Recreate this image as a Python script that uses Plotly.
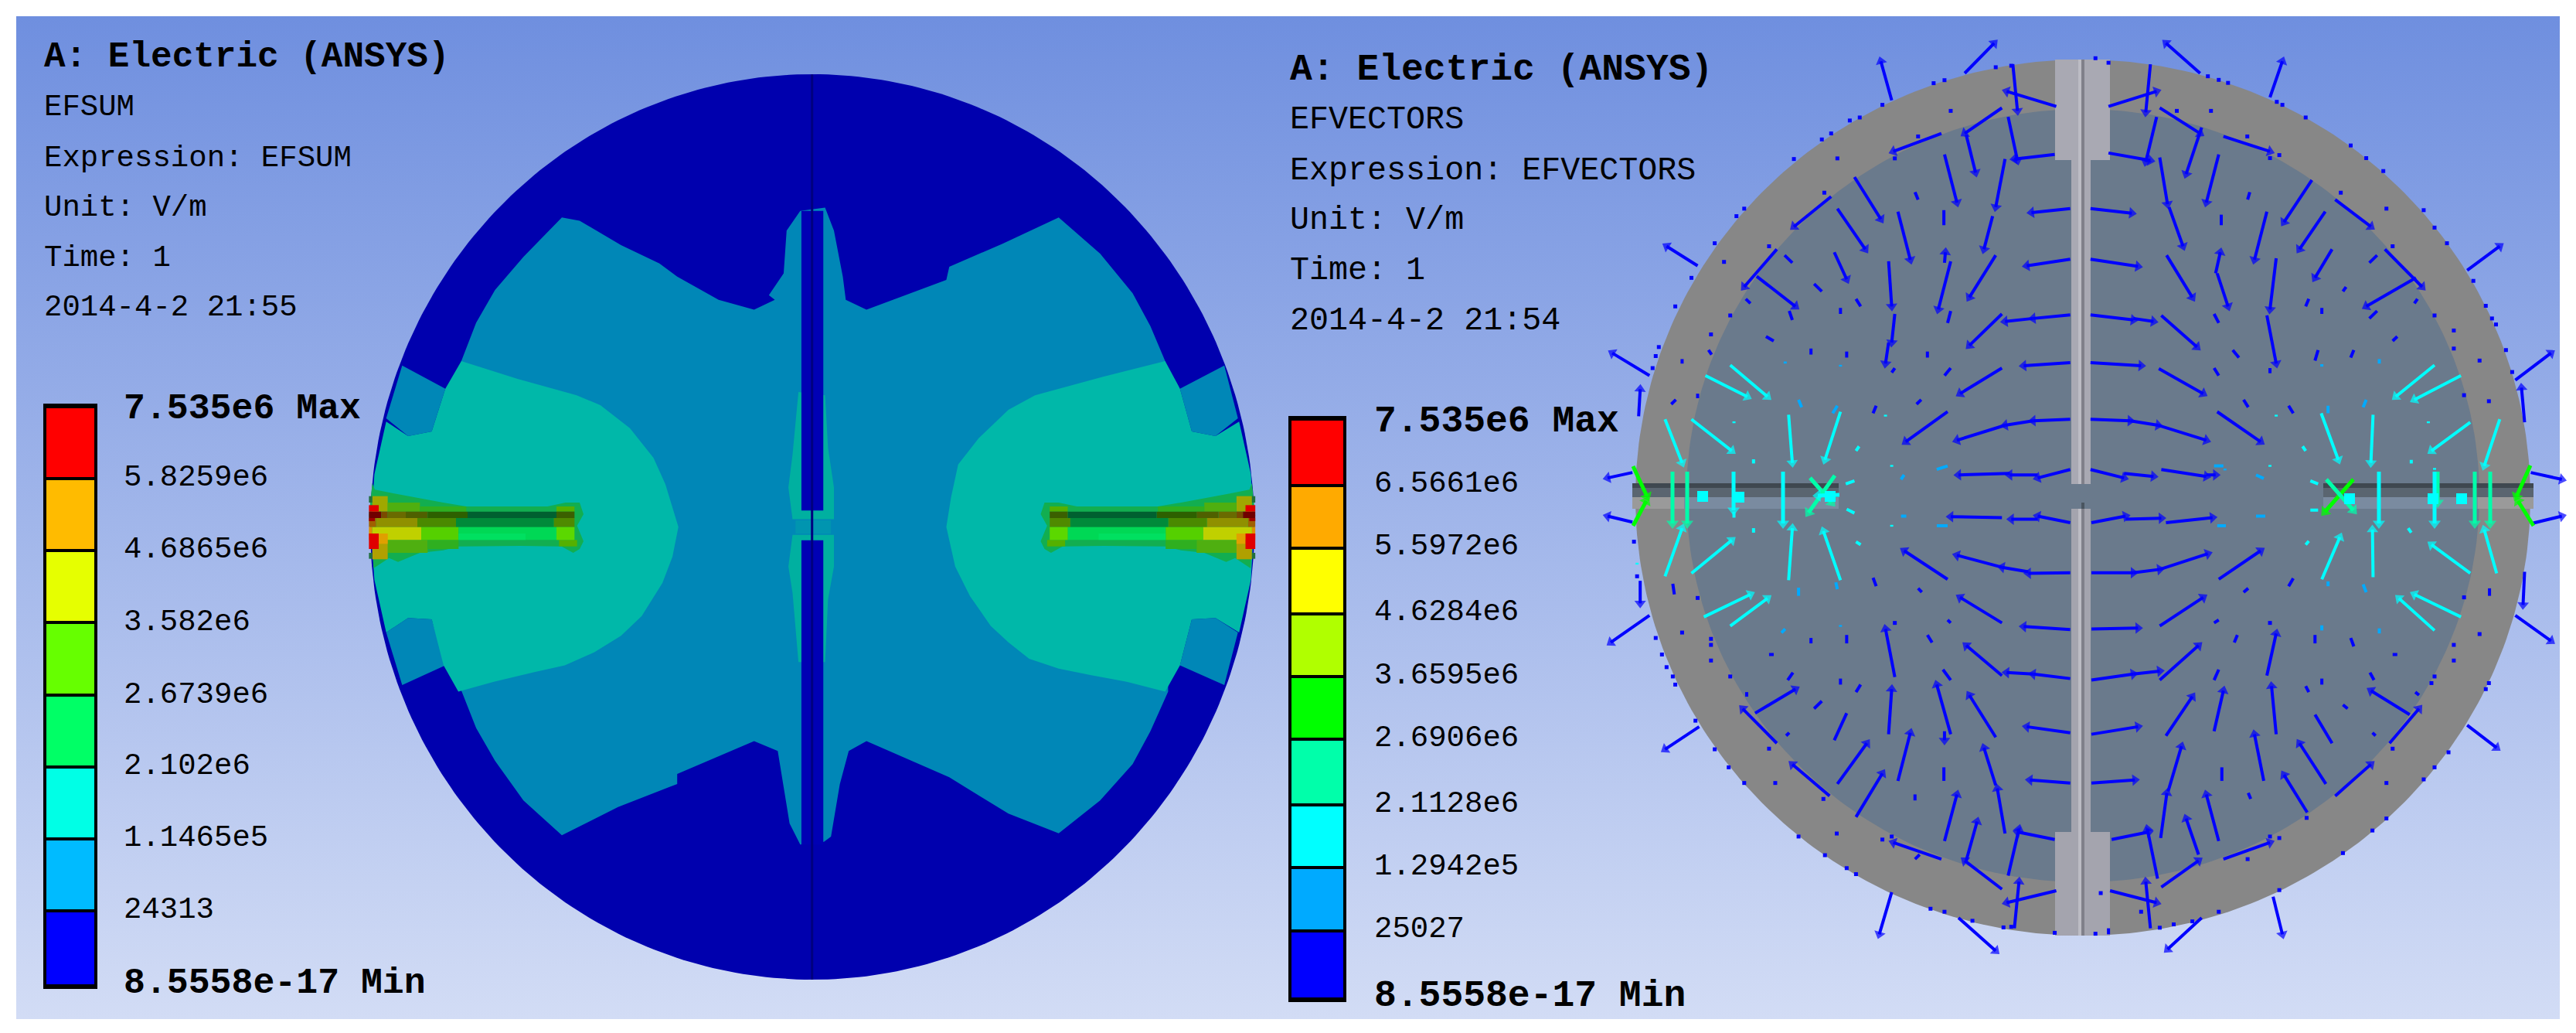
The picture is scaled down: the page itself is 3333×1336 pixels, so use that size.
import numpy as np
import plotly.graph_objects as go

W, H = 3333, 1336
BG_TOP, BG_BOTTOM = "#6F8FDF", "#D2DCF5"

# ---------- legend data ----------
left_labels = ["7.535e6 Max", "5.8259e6", "4.6865e6", "3.582e6", "2.6739e6", "2.102e6", "1.1465e5", "24313", "8.5558e-17 Min"]
left_label_y = [528, 618, 711, 805, 899, 991, 1084, 1177, 1271]
left_edges = [526, 619, 712, 805, 899, 992, 1085, 1178, 1275]
left_colors = ["#FF0000", "#FFBB00", "#E6FF00", "#66FF00", "#00FF66", "#00FFE6", "#00BBFF", "#0000FF"]
right_labels = ["7.535e6 Max", "6.5661e6", "5.5972e6", "4.6284e6", "3.6595e6", "2.6906e6", "2.1128e6", "1.2942e5", "25027", "8.5558e-17 Min"]
right_label_y = [545, 626, 707, 792, 874, 955, 1040, 1121, 1202, 1288]
right_edges = [542, 628, 709, 794, 875, 956, 1041, 1122, 1204, 1292]
right_colors = ["#FF0000", "#FFAA00", "#FFFF00", "#B0FF00", "#00FF00", "#00FFAA", "#00FFFF", "#00AAFF", "#0000FF"]
left_info = ["A: Electric (ANSYS)", "EFSUM", "Expression: EFSUM", "Unit: V/m", "Time: 1", "2014-4-2 21:55"]
left_info_y = [74, 139, 204.5, 269, 334, 398]
right_info = ["A: Electric (ANSYS)", "EFVECTORS", "Expression: EFVECTORS", "Unit: V/m", "Time: 1", "2014-4-2 21:54"]
right_info_y = [89.5, 155, 221, 285, 350, 415]

# ---------- EFSUM contour bands (read in crop units of the left disk) ----------
band_mid = [(205,548),(230,490),(262,440),(310,390),(375,330),(405,335),(475,372),(540,400),(570,420),(640,455),(700,470),(735,455),(725,448),(750,415),(755,350),(778,320),
            (820,315),(835,350),(850,420),(855,455),(890,470),(1025,425),(1030,405),(1120,370),(1215,330),(1285,385),(1340,445),(1370,495),(1395,548),
            (1400,1050),(1370,1110),(1340,1160),(1285,1215),(1215,1265),(1130,1235),
            (1030,1180),(890,1125),(860,1140),(845,1190),(830,1270),(818,1278),(778,1282),(760,1250),(740,1140),(700,1125),(570,1175),
            (570,1190),(470,1225),(375,1268),(310,1215),(262,1155),(230,1105),(205,1048)]
band_patches = [[(105,555),(178,590),(155,655),(115,662),(78,635)], [(78,960),(115,938),(155,940),(178,1010),(105,1040)],
                [(1495,555),(1420,590),(1440,655),(1480,662),(1518,635)], [(1518,960),(1480,938),(1440,940),(1420,1010),(1495,1040)]]
band_teal_left = [(205,548),(300,575),(400,600),(440,615),(490,650),(530,695),(550,735),(562,770),(572,800),(562,845),(545,885),(510,935),(475,965),(430,990),(380,1010),(330,1020),(260,1035),(200,1050),
                  (175,1010),(155,940),(115,938),(78,960),(58,880),(52,800),(58,720),(78,640),(115,662),(155,655),(178,590)]
band_teal_right = [(1395,548),(1290,572),(1175,600),(1130,622),(1080,665),(1045,705),(1033,755),(1025,800),(1040,860),(1065,905),(1100,950),(1130,975),(1165,1000),(1215,1015),(1270,1025),(1330,1035),
                   (1395,1050),(1420,1010),(1440,940),(1480,938),(1520,960),(1540,880),(1545,800),(1540,720),(1520,640),(1480,662),
                   (1440,655),(1420,590)]
band_slot_upper = [(775,595),(765,690),(758,740),(765,788),(835,788),(835,740),(825,680),(820,600)]
band_slot_lower = [(775,1005),(765,900),(758,860),(765,812),(835,812),(835,860),(825,910),(820,1005)]
slot_rects = [(780,320,817,775), (780,820,817,1282)]

# electrode cells: x0, y0, x1, y1, colour (crop units of the electrode)
halo = [(65,75),(75,100),(150,115),(205,125),(275,140),(340,150),(430,165),(745,165),(815,150),(870,150),(885,195),(860,240),(885,300),
        (870,330),(845,345),(800,320),(640,318),(400,320),(340,335),(250,345),(165,380),(130,365),(70,405),(65,300),(52,200)]
cells = [(65,125,125,185,"#A0A800"),(125,150,250,185,"#4FAF10"),(250,165,430,185,"#2FAF20"),(780,165,850,185,"#55B000"),
         (125,295,280,345,"#4FAF10"),(280,295,400,330,"#2FAF20"),(790,295,860,320,"#55B000"),(65,295,125,370,"#B0A000"),
         (52,185,100,210,"#700000"),(100,185,125,210,"#7A4A00"),(125,185,195,210,"#6A6A00"),(195,185,280,210,"#4F6000"),
         (280,185,435,210,"#2D6000"),(435,185,780,210,"#006030"),(780,185,850,210,"#3B6000"),
         (52,210,80,245,"#A06000"),(80,210,240,245,"#909000"),(240,210,390,245,"#4A8A00"),(390,210,770,245,"#008A3A"),(770,210,850,245,"#4F8A00"),
         (52,245,65,295,"#E09000"),(65,245,255,295,"#C0D000"),(255,245,400,295,"#55D000"),(400,245,780,295,"#00D855"),(780,245,850,295,"#5BD800"),
         (400,270,660,295,"#00E060"),(90,270,125,310,"#E0A000"),
         (52,160,90,185,"#E00000"),(52,210,75,222,"#A00000"),(52,270,90,330,"#E00000"),(52,125,65,150,"#207040"),(52,345,65,368,"#207040")]

# ---------- EFVECTORS: tail x, tail y, head x, head y (crop units per quadrant) ----------
tl_blue = [(915,205,880,75),(1150,115,1245,15),(290,755,190,690),(135,1120,15,1045),(100,1255,105,1165),(80,1442,0,1460),
 (1445,225,1285,175),(1305,85,1320,240),(1270,230,1150,315),(1290,260,1320,405),(1440,385,1310,400),(1075,315,920,375),(1155,320,1185,445),
 (1085,385,1125,545),(1280,400,1250,560),(1240,590,1212,700),(795,460,880,600),(720,525,600,625),(740,565,830,700),(935,575,975,735),
 (1250,720,1165,860),(1105,740,1065,900),(1085,745,1088,710),(905,740,915,890),(545,700,440,825),(480,790,605,890),(730,710,770,800),
 (925,915,915,1010),(905,1010,895,1080),(1270,915,1165,1020),(1490,918,1370,930),(1370,930,1280,940),(1490,565,1365,578),(1490,733,1350,755),
 (1490,1077,1340,1087),(1270,1095,1135,1180),(1095,1240,960,1340),(1490,1265,1370,1270),(1370,1270,1280,1285),(1280,1285,1125,1335),
 (1490,1432,1385,1460),(1385,1450,1295,1450),(1295,1445,1130,1450)]
tl_stubs = [(1083,570,1083,620),(990,510,1000,535),(570,720,595,745),(665,815,690,840),(800,865,815,890),(750,895,750,915),(585,905,595,935),
 (445,865,460,880),(1105,905,1095,945),(510,990,535,1005),(325,1035,335,1050),(655,1030,655,1050),(770,1040,770,1060),(1030,1040,1030,1060),
 (925,1095,915,1110),(1105,1095,1085,1120),(1010,1200,995,1215),(865,1220,855,1245),(240,1065,240,1080),(290,1180,290,1195),(220,1200,205,1215)]
tl_dots = [(1105,240),(740,398),(375,742),(520,690),(698,512),(1000,325),(925,398),(395,920),(333,983),(1300,90),(1250,95),(1085,138),(1050,148),
 (885,220),(780,272),(812,262),(690,335),(720,315),(600,400),(440,565),(415,590),(345,680),(270,795),(218,890),(165,1025),(155,1055),(145,1095)]
tl_cyan = [(315,1120,450,1190),(395,1085,515,1190),(270,1265,400,1370),(185,1265,240,1410),(583,1250,595,1410),(750,1240,700,1400)]
tl_cyan_stubs = [(810,1355,800,1370),(470,1398,470,1412),(407,1272,407,1278),(895,1250,895,1256),(915,1417,915,1423),(767,1480,795,1470)]
tl_sky = [(740,1220,725,1245),(615,1200,625,1225),(572,1073,572,1080),(750,1084,750,1090),(955,1450,945,1465),(1095,1420,1060,1432)]

tr_blue = [(365,115,255,15),(590,195,630,75),(1225,770,1330,690),(1380,1135,1495,1045),(1410,1275,1400,1160),(1430,1442,1530,1465),
 (70,225,225,175),(205,85,190,245),(235,230,365,315),(225,260,190,410),(70,380,205,405),(440,325,590,375),(370,295,320,450),(425,385,385,545),
 (235,395,260,550),(265,560,310,690),(725,470,635,610),(800,535,915,625),(768,575,685,700),(580,575,540,735),(790,700,735,795),(960,700,1080,825),
 (1060,795,900,890),(12,565,145,580),(12,733,165,757),(257,720,340,860),(415,780,430,710),(420,780,455,890),(610,730,590,900),(240,920,355,1025),
 (12,918,150,935),(150,930,215,940),(580,920,610,1080),(12,1077,175,1087),(232,1097,375,1180),(420,1240,560,1340),(12,1265,140,1270),
 (140,1270,230,1285),(230,1285,385,1335),(12,1432,120,1460),(120,1445,215,1455),(240,1432,385,1455),(385,1450,415,1450)]
tr_stubs = [(433,585,433,620),(525,510,518,535),(935,720,910,745),(835,825,825,840),(715,865,705,890),(757,895,757,915),(935,905,910,930),
 (1000,990,985,1005),(1065,865,1055,880),(410,915,425,945),(470,1035,490,1060),(745,1035,735,1070),(860,1035,850,1060),(410,1095,425,1120),
 (590,1095,590,1112),(505,1200,520,1225),(650,1220,665,1245)]
tr_dots = [(28,65),(70,80),(290,240),(400,240),(590,397),(620,387),(517,325),(705,262),(850,355),(900,397),(955,440),(818,512),(965,565),(1085,570),
 (1120,628),(1160,680),(1245,805),(1285,888),(1305,930),(1318,950),(1120,920),(1182,970),(1182,1030),(1265,1070),(1350,1035),(1370,1108),(1295,1205),
 (1215,1185),(985,690),(612,210),(630,220),(425,137),(455,147),(390,125)]
tr_cyan = [(1120,1085,995,1190),(1205,1120,1055,1200),(1235,1275,1110,1370),(1330,1265,1280,1420),(922,1250,915,1410),(755,1245,810,1400)]
tr_cyan_stubs = [(695,1355,705,1370),(1045,1400,1045,1412),(1100,1272,1100,1278),(610,1250,610,1256),(590,1417,590,1423),(1120,1427,1120,1433),(720,1470,745,1480)]
tr_sky = [(942,1065,942,1080),(757,1082,757,1090),(777,1220,777,1245),(900,1200,890,1225),(440,1420,410,1420),(445,1429,445,1435),(570,1462,545,1450)]

bl_blue = [(80,65,0,45),(135,375,10,465),(295,745,185,820),(915,1295,875,1435),(1130,1380,1250,1490),(105,260,105,335),
 (1445,1290,1285,1330),(1310,1415,1325,1260),(1270,1285,1150,1190),(1290,1240,1325,1085),(1440,1120,1320,1095),(1075,1185,920,1130),
 (1155,1190,1190,1060),(1085,1125,1125,970),(1280,1100,1255,950),(1250,940,1212,815),(1250,780,1165,640),(1105,770,1060,605),(1085,760,1085,790),
 (935,925,975,765),(800,1045,885,900),(715,975,595,870),(740,935,835,800),(905,770,915,620),(925,580,895,420),(545,800,435,685),(475,700,605,620),
 (1490,233,1355,235),(1355,230,1270,215),(1270,215,1125,175),(1490,67,1385,45),(1385,55,1300,55),(1270,50,1105,47),(1490,422,1340,412),(1095,255,955,160),
 (1270,400,1135,315),(1490,585,1370,570),(1370,570,1285,565),(1270,575,1155,475),(1490,765,1350,745),(1490,932,1360,922)]
bl_stubs = [(1083,880,1083,925),(990,970,990,990),(575,775,585,765),(730,790,770,700),(665,685,690,660),(800,630,815,605),(750,585,750,605),
 (580,590,597,565),(448,630,448,645),(1105,590,1080,555),(1030,440,1045,465),(770,440,770,468),(655,450,655,468),(855,250,865,278),(1000,285,1012,298),
 (1095,390,1105,400),(520,505,535,505),(210,270,215,305),(990,1185,1005,1170)]
bl_dots = [(925,400),(290,317),(240,432),(333,453),(333,473),(333,525),(395,578),(540,932),(520,818),(695,985),(738,1100),(885,1120),(915,1110),
 (85,130),(95,245),(155,450),(175,505),(190,547),(210,578),(218,605),(283,725),(345,820),(390,880),(440,932),(615,1110),(700,1172),(770,1215),
 (800,1235),(1040,1350),(1085,1360),(1175,1390),(1275,1412),(1300,1410),(1440,1430)]
bl_cyan = [(185,245,240,85),(270,235,400,125),(310,380,460,305),(395,410,515,318),(583,258,595,85),(750,258,695,95)]
bl_cyan_stubs = [(800,130,815,140),(470,85,470,100),(407,30,407,50),(915,74,915,80),(95,200,95,206),(770,22,795,35)]
bl_sky = [(615,283,615,310),(735,265,740,288),(572,420,560,433),(750,407,750,413),(945,45,962,45),(1060,77,1095,77)]

br_blue = [(1430,70,1530,45),(1380,375,1495,460),(1225,740,1320,815),(600,1310,630,1435),(370,1380,260,1485),(1410,230,1405,340),
 (80,1120,200,1095),(228,1250,195,1085),(238,1115,258,965),(262,960,305,810),(425,1125,385,970),(360,1170,320,1050),(240,1278,360,1190),(440,1185,590,1130),
 (205,1415,190,1260),(75,1290,225,1330),(710,1030,635,905),(800,975,915,870),(770,935,685,800),(570,925,540,770),(610,770,595,610),(410,760,440,625),
 (975,800,1070,685),(1040,705,915,625),(580,575,610,435),(235,590,360,475),(15,590,150,570),(150,570,235,560),(15,420,165,417),(235,410,375,315),
 (15,233,150,233),(150,233,235,222),(235,222,390,170),(425,255,560,160),(15,67,125,45),(125,55,240,52),(255,67,405,50),(15,770,165,745),(255,775,340,645),(15,932,155,922)]
br_stubs = [(435,880,435,925),(520,965,528,985),(790,800,735,705),(930,775,920,765),(840,685,825,672),(715,630,705,610),(757,585,757,605),(925,590,912,565),
 (1070,640,1058,630),(735,440,735,468),(860,478,850,450),(475,465,485,440),(410,590,425,555),(410,400,425,390),(505,298,520,285),(650,278,665,252),
 (985,505,1000,505),(1297,285,1297,310),(70,1415,70,1435)]
br_dots = [(590,400),(1215,315),(1265,437),(1182,473),(1182,525),(1120,578),(1110,600),(1295,600),(1285,620),(965,932),(985,818),(708,1048),(620,1115),(590,1110),
 (518,1185),(175,1360),(235,1413),(620,1288),(425,1360),(340,1392),(280,1402),(825,1165),(965,1050),(920,1090),(1120,880),(1165,830),(1085,920),(45,1298),(28,1433)]
br_cyan = [(757,255,815,115),(922,248,920,90),(1235,235,1110,140),(1320,235,1280,90),(1205,380,1055,305),(1120,425,1005,318)]
br_cyan_stubs = [(705,140,715,128),(1045,100,1035,85),(720,25,745,25)]
br_sky = [(777,262,777,278),(890,272,900,298),(757,408,757,425),(942,418,942,435),(420,77,448,77),(545,45,575,45)]

# vectors on the horizontal rods, in page units: tail x, tail y, head x, head y
rod_green = [(2113,603,2131,642),(2113,680,2130,648),(3274,602,3256,642),(3278,680,3258,648),(3045,620,3008,662)]
rod_spring = [(2164,610,2164,677),(2183,610,2183,677),(2342,618,2370,650),(2374,615,2340,663),(3010,620,3045,660),(3202,610,3202,677),(3222,610,3222,677),(3154,610,3154,650)]
rod_cyan = [(2243,610,2243,660),(2307,610,2307,677),(2380,640,2352,641),(3078,610,3078,677),(3150,610,3150,677)]
rod_blobs = [(2203,642),(2250,643),(2368,642),(3185,645),(3040,645),(3148,645)]

fig = go.Figure()

def poly(xs, ys, color):
    fig.add_trace(go.Scatter(x=list(xs) + [xs[0]], y=list(ys) + [ys[0]], mode="lines", fill="toself", fillcolor=color,
                             line=dict(width=0, color=color), hoverinfo="skip", showlegend=False))

def rect(x0, y0, x1, y1, color):
    poly([x0, x1, x1, x0], [y0, y0, y1, y1], color)

def ellipse(cx, cy, rx, ry, color):
    t = np.linspace(0, 2 * np.pi, 361)
    poly(cx + rx * np.cos(t), cy + ry * np.sin(t), color)

# background with vertical gradient
fig.add_trace(go.Scatter(x=[21, 3312, 3312, 21, 21], y=[21, 21, 1318, 1318, 21], mode="lines", fill="toself",
                         line=dict(width=0), hoverinfo="skip", showlegend=False,
                         fillgradient=dict(type="vertical", start=21, stop=1318, colorscale=[[0, BG_TOP], [1, BG_BOTTOM]])))

# ---------- left disk ----------
LX = lambda v: 440 + v / 1.3067
LY = lambda v: v / 1.1737
def lpoly(pts, color):
    poly([LX(p[0]) for p in pts], [LY(p[1]) for p in pts], color)

ellipse(1051, 681.5, 572, 585.5, "#0000AE")
lpoly(band_mid, "#0087B7")
for p in band_patches:
    lpoly(p, "#0087B7")
lpoly(band_teal_left, "#00B8A9")
lpoly(band_teal_right, "#00B8A9")
lpoly(band_slot_upper, "#00B0A0")
lpoly(band_slot_lower, "#00B0A0")
lpoly([(770,790),(830,790),(830,810),(770,810)], "#0095B0")
for x0, y0, x1, y1 in slot_rects:
    rect(LX(x0), LY(y0), LX(x1), LY(y1), "#0000B4")
rect(LX(796), LY(113), LX(800), LY(1487), "#00007F")

EX = lambda v: 460 + v / 3
EY = lambda v: 600 + v / 3
MIRROR = 2101.5
poly([EX(p[0]) for p in halo], [EY(p[1]) for p in halo], "#12AE50")
poly([MIRROR - EX(p[0]) for p in halo], [EY(p[1]) for p in halo], "#12AE50")
for x0, y0, x1, y1, c in cells:
    rect(EX(x0), EY(y0), EX(x1), EY(y1), c)
    rect(MIRROR - EX(x0), EY(y0), MIRROR - EX(x1), EY(y1), c)

# ---------- right disk ----------
ellipse(2695, 643.5, 579, 566.5, "#878787")
ellipse(2695, 641, 513, 500, "#6A7A8C")
# horizontal rods
for x0, x1, ring_x in [(2112, 2379, 2179), (3006, 3278, 3206)]:
    rect(x0, 625, x1, 631, "#3F4850")
    rect(x0, 631, x1, 643, "#5A6570")
    rect(x0, 643, x1, 658, "#7A8BA0")
    if x0 < 2500:
        rect(x0, 643, ring_x, 658, "#9A9A9A")
    else:
        rect(ring_x, 643, x1, 658, "#9A9A9A")
# vertical rod
rect(2659, 77, 2730, 207, "#A9A9B3")
rect(2659, 1076, 2730, 1210, "#A4A4AE")
rect(2680, 207, 2705, 626, "#A9A9B3")
rect(2680, 658, 2705, 1076, "#A4A4AE")
rect(2689, 77, 2693, 626, "#BCBCC4")
rect(2693, 77, 2697, 626, "#80808A")
rect(2689, 658, 2693, 1210, "#BCBCC4")
rect(2693, 658, 2697, 1210, "#80808A")
rect(2693, 650, 2697, 658, "#4A5560")

def Q(pts, ox, oy):
    return [tuple((ox + p[i] / 2.489) if i % 2 == 0 else (oy + p[i] / 2.57) for i in range(len(p))) for p in pts]

def arrows(items, color, head=13, width=4):
    xs, ys, sz = [], [], []
    for x0, y0, x1, y1 in items:
        xs += [x0, x1, None]; ys += [y0, y1, None]; sz += [0, head, 0]
    fig.add_trace(go.Scatter(x=xs, y=ys, mode="lines+markers", line=dict(color=color, width=width), connectgaps=False,
                             marker=dict(symbol="triangle-up", angleref="previous", size=sz, color=color, line=dict(width=0)),
                             hoverinfo="skip", showlegend=False))

def stubs(items, color, width=4):
    xs, ys = [], []
    for x0, y0, x1, y1 in items:
        xs += [x0, x1, None]; ys += [y0, y1, None]
    fig.add_trace(go.Scatter(x=xs, y=ys, mode="lines", line=dict(color=color, width=width), hoverinfo="skip", showlegend=False))

def dots(items, color, size=5):
    fig.add_trace(go.Scatter(x=[p[0] for p in items], y=[p[1] for p in items], mode="markers",
                             marker=dict(symbol="square", size=size, color=color, line=dict(width=0)), hoverinfo="skip", showlegend=False))

BLUE, CYAN, SKY, SPRING, GREEN = "#0000FF", "#00FFFF", "#00AAFF", "#00FFAA", "#00FF00"
for blue, stub, dot, cyan, cstub, sky, ox, oy in [
    (tl_blue, tl_stubs, tl_dots, tl_cyan, tl_cyan_stubs, tl_sky, 2080, 50),
    (tr_blue, tr_stubs, tr_dots, tr_cyan, tr_cyan_stubs, tr_sky, 2700, 50),
    (bl_blue, bl_stubs, bl_dots, bl_cyan, bl_cyan_stubs, bl_sky, 2080, 650),
    (br_blue, br_stubs, br_dots, br_cyan, br_cyan_stubs, br_sky, 2700, 650)]:
    arrows(Q(blue, ox, oy), BLUE)
    stubs(Q(stub, ox, oy), BLUE)
    dots(Q(dot, ox, oy), BLUE)
    arrows(Q(cyan, ox, oy), CYAN)
    stubs(Q(cstub, ox, oy), CYAN)
    stubs(Q(sky, ox, oy), SKY)
arrows(rod_green, GREEN, head=14, width=5)
arrows(rod_spring, SPRING, head=14, width=5)
arrows(rod_cyan, CYAN, head=14, width=5)
dots(rod_blobs, CYAN, size=14)

# ---------- legends ----------
def legend(x0, x1, edges, colors):
    rect(x0 - 4, edges[0] - 4, x1 + 4, edges[-1] + 4, "#000000")
    for i, c in enumerate(colors):
        rect(x0, edges[i] + 2, x1, edges[i + 1] - 2, c)

legend(60, 122, left_edges, left_colors)
legend(1671, 1738, right_edges, right_colors)

FONT = "Liberation Mono"
def text(x, y, s, size, bold=False):
    fig.add_annotation(x=x, y=y, text=f"<b>{s}</b>" if bold else s, showarrow=False, xanchor="left", yanchor="middle",
                       font=dict(family=FONT, size=size, color="#000000"), xref="x", yref="y")

for i, (s, y) in enumerate(zip(left_info, left_info_y)):
    text(55, y, s, 46 if i == 0 else 39, i == 0)
for i, (s, y) in enumerate(zip(left_labels, left_label_y)):
    b = i in (0, len(left_labels) - 1)
    text(158, y, s, 46.5 if b else 39, b)
for i, (s, y) in enumerate(zip(right_info, right_info_y)):
    text(1667, y, s, 48 if i == 0 else 41.7, i == 0)
for i, (s, y) in enumerate(zip(right_labels, right_label_y)):
    b = i in (0, len(right_labels) - 1)
    text(1776, y, s, 48 if b else 39, b)

fig.update_layout(width=W, height=H, margin=dict(l=0, r=0, t=0, b=0), paper_bgcolor="#FFFFFF", plot_bgcolor="#FFFFFF", showlegend=False,
                  xaxis=dict(range=[0, W], visible=False, fixedrange=True),
                  yaxis=dict(range=[H, 0], visible=False, fixedrange=True))
fig.write_html("out.html", config={"displayModeBar": False}, post_script="document.body.style.margin='0';")
